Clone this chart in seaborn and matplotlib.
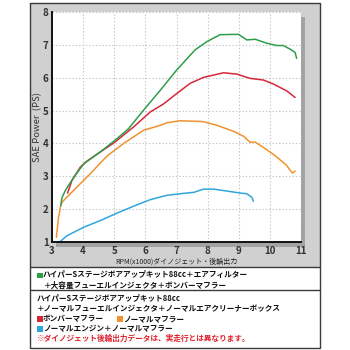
import matplotlib
matplotlib.use("Agg")
import matplotlib.pyplot as plt
from matplotlib.patches import Rectangle
import seaborn as sns
import pandas as pd

# ---- data (RPM x1000, SAE Power PS) ----
green_x = [3.28, 3.32, 3.43, 3.70, 4.02, 4.55, 5.03, 5.46, 5.94, 6.48, 7.01, 7.60, 7.98, 8.40, 8.99, 9.26, 9.53, 9.90, 10.22, 10.43, 10.65, 10.81, 10.86]
green_y = [2.10, 2.35, 2.57, 2.97, 3.38, 3.74, 4.10, 4.45, 5.01, 5.62, 6.24, 6.85, 7.10, 7.31, 7.32, 7.15, 7.17, 7.05, 6.98, 6.98, 6.87, 6.77, 6.59]
red_x = [3.50, 3.64, 3.91, 4.12, 4.55, 4.98, 5.62, 6.16, 6.58, 7.01, 7.44, 7.87, 8.51, 8.94, 9.36, 9.79, 10.11, 10.54, 10.81]
red_y = [2.49, 2.87, 3.28, 3.46, 3.74, 4.01, 4.50, 4.96, 5.20, 5.52, 5.83, 6.01, 6.15, 6.11, 5.98, 5.93, 5.81, 5.60, 5.40]
orange_x = [3.14, 3.21, 3.29, 3.37, 3.80, 4.23, 4.76, 5.30, 5.94, 6.48, 6.69, 7.12, 7.76, 7.87, 8.30, 8.83, 9.15, 9.36, 9.53, 9.90, 10.22, 10.54, 10.65, 10.73, 10.81]
orange_y = [1.14, 1.75, 2.16, 2.26, 2.67, 3.08, 3.61, 4.00, 4.40, 4.55, 4.63, 4.69, 4.67, 4.66, 4.55, 4.37, 4.22, 4.04, 4.04, 3.81, 3.59, 3.33, 3.18, 3.10, 3.16]
blue_x = [3.27, 3.48, 4.02, 4.55, 5.09, 5.62, 6.16, 6.69, 7.22, 7.55, 7.87, 8.19, 8.62, 9.05, 9.26, 9.42, 9.47]
blue_y = [1.02, 1.19, 1.45, 1.65, 1.88, 2.09, 2.29, 2.42, 2.48, 2.51, 2.61, 2.61, 2.55, 2.49, 2.47, 2.36, 2.24]

x_ticks = [3, 4, 5, 6, 7, 8, 9, 10, 11]
y_ticks = [1, 2, 3, 4, 5, 6, 7, 8]
x_label = "RPM(x1000)ダイノジェット・後輪出力"
y_label = "SAE Power  (PS)"
legend_lines = [
    "ハイパーSステージボアアップキット88cc＋エアフィルター",
    "＋大容量フューエルインジェクタ＋ボンバーマフラー",
    "ハイパーSステージボアアップキット88cc",
    "＋ノーマルフューエルインジェクタ＋ノーマルエアクリーナーボックス",
    "ボンバーマフラー",
    "ノーマルマフラー",
    "ノーマルエンジン＋ノーマルマフラー",
    "※ダイノジェット後輪出力データは、実走行とは異なります。",
]

C_GREEN = "#2f9e4b"
C_RED = "#d7283a"
C_ORANGE = "#f0922f"
C_BLUE = "#2fa7dc"

sns.set_theme(style="white")
plt.rcParams['font.family'] = ['Noto Sans CJK JP', 'DejaVu Sans']

W = H = 350
fig = plt.figure(figsize=(3.5, 3.5), dpi=100)
fig.patch.set_facecolor("white")

def fx(px):
    return px / W

def fy(py):
    return 1 - py / H

# gray chart background
fig.add_artist(Rectangle((fx(30), fy(267)), fx(320) - fx(30), fy(3) - fy(267),
                         transform=fig.transFigure, facecolor="#d0d0d0",
                         edgecolor="none", zorder=-3))
# plot shadow
ax_l, ax_r, ax_t, ax_b = 52, 301, 12, 242
fig.add_artist(Rectangle((fx(ax_l + 4), fy(ax_b + 5)), fx(ax_r) - fx(ax_l), fy(ax_t) - fy(ax_b),
                         transform=fig.transFigure, facecolor="#a3a3a3",
                         edgecolor="none", zorder=-2))
# outer frame and legend boxes
fig.add_artist(Rectangle((fx(30), fy(348)), fx(320) - fx(30), fy(3) - fy(348),
                         transform=fig.transFigure, fill=False,
                         edgecolor="#3a3a3a", lw=1.0, zorder=5))
for yy in (267, 290):
    fig.add_artist(plt.Line2D([fx(30), fx(320)], [fy(yy), fy(yy)],
                              transform=fig.transFigure, color="#3a3a3a", lw=1.0, zorder=5))

ax = fig.add_axes([fx(ax_l), fy(ax_b), fx(ax_r) - fx(ax_l), fy(ax_t) - fy(ax_b)])
ax.set_facecolor("white")

for xs, ys, c in [(blue_x, blue_y, C_BLUE), (orange_x, orange_y, C_ORANGE),
                  (red_x, red_y, C_RED), (green_x, green_y, C_GREEN)]:
    df = pd.DataFrame({"x": xs, "y": ys})
    sns.lineplot(data=df, x="x", y="y", ax=ax, color=c, lw=1.1, sort=False, estimator=None)

ax.set_xlim(3, 11)
ax.set_ylim(1, 8)
ax.set_xticks(x_ticks)
ax.set_yticks(y_ticks)
ax.grid(True, color="#c4c4c4", linestyle=(0, (1.2, 1.8)), lw=0.8)
for s in ("top", "right"):
    ax.spines[s].set_visible(False)
for s in ("left", "bottom"):
    ax.spines[s].set_visible(True)
    ax.spines[s].set_color("#111111")
    ax.spines[s].set_linewidth(1.4)
ax.tick_params(axis="both", length=0, labelsize=7, colors="#333333")
ax.tick_params(axis="x", pad=3)
ax.tick_params(axis="y", pad=2.5)
for lab in ax.get_xticklabels() + ax.get_yticklabels():
    lab.set_fontweight("bold")
ax.set_xlabel(x_label, fontsize=5, color="#222222", labelpad=1)
ax.set_ylabel(y_label, fontsize=6.8, color="#333333", labelpad=0.5)

# legend text
fs = 5.5
def sq(px, py, c):
    fig.add_artist(Rectangle((fx(px), fy(py + 3)), fx(5.5), fx(5.5),
                             transform=fig.transFigure, facecolor=c, edgecolor="none", zorder=6))

def txt(px, py, s, c="#111111"):
    fig.text(fx(px), fy(py), s, fontsize=fs, fontweight="bold", color=c,
             ha="left", va="center", zorder=6)

sq(37, 275, C_GREEN)
txt(43, 275, legend_lines[0])
txt(44, 285, legend_lines[1])
txt(37, 298, legend_lines[2])
txt(37, 308.5, legend_lines[3])
sq(37, 318.5, C_RED)
txt(43, 318.5, legend_lines[4])
sq(117, 318.5, C_ORANGE)
txt(123, 318.5, legend_lines[5])
sq(37, 328.5, C_BLUE)
txt(43, 328.5, legend_lines[6])
txt(37, 338.5, legend_lines[7], c="#e0202a")

fig.savefig("out.png", dpi=100)
